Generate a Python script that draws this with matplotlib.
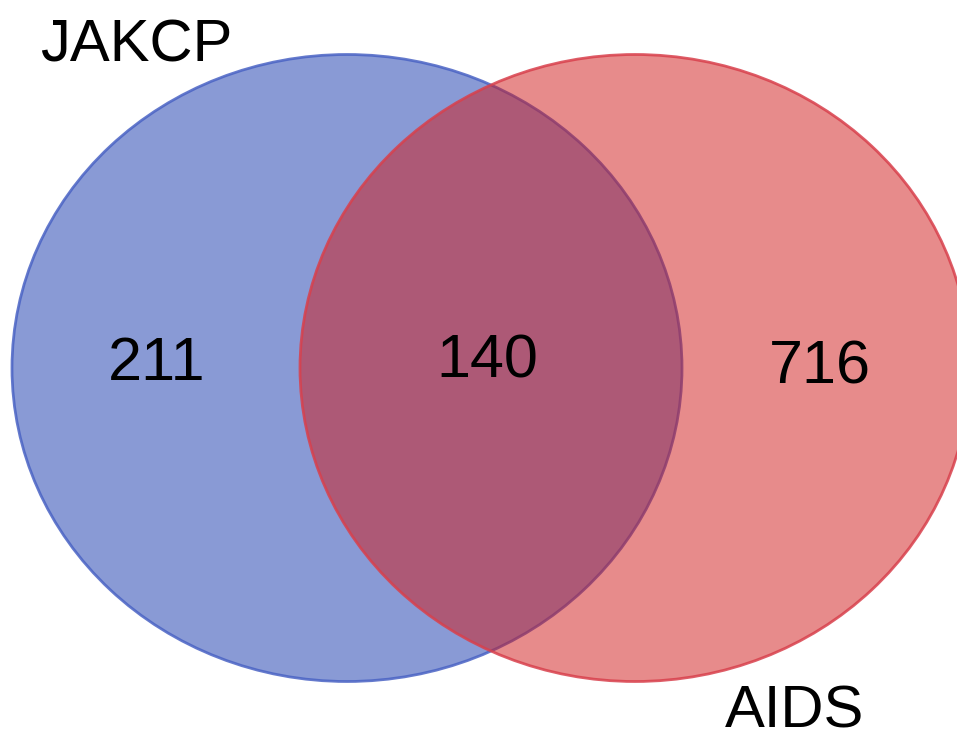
import matplotlib.pyplot as plt
from matplotlib.patches import Ellipse

set_names = ["JAKCP", "AIDS"]
region_labels = ["211", "140", "716"]  # only JAKCP, both, only AIDS
set_colors = ["#1537ad", "#d11919"]
edge_colors = ["#4a63c4", "#d8404c"]

plt.rcParams['font.family'] = ['Liberation Sans', 'DejaVu Sans']

fig = plt.figure(figsize=(9.57, 7.33), dpi=100)
ax = fig.add_axes([0, 0, 1, 1])
ax.set_xlim(0, 957)
ax.set_ylim(733, 0)
ax.axis('off')

# circles (pixel layout)
centers = [(347, 368), (635, 368)]
for c, fc, ec in zip(centers, set_colors, edge_colors):
    ax.add_patch(Ellipse(c, 670, 627, facecolor=fc, alpha=0.5, edgecolor='none'))
    ax.add_patch(Ellipse(c, 670, 627, facecolor='none', edgecolor=ec, lw=2, alpha=0.85))

fs = 44
ax.text(157, 365, region_labels[0], fontsize=fs, ha='center', va='center')
ax.text(487, 362, region_labels[1], fontsize=fs, ha='center', va='center')
ax.text(820, 368, region_labels[2], fontsize=fs, ha='center', va='center')

ax.text(40, 62, set_names[0], fontsize=fs - 1, ha='left', va='baseline')
ax.text(725, 727, set_names[1], fontsize=fs - 1, ha='left', va='baseline')

fig.savefig('out.png', dpi=100)
